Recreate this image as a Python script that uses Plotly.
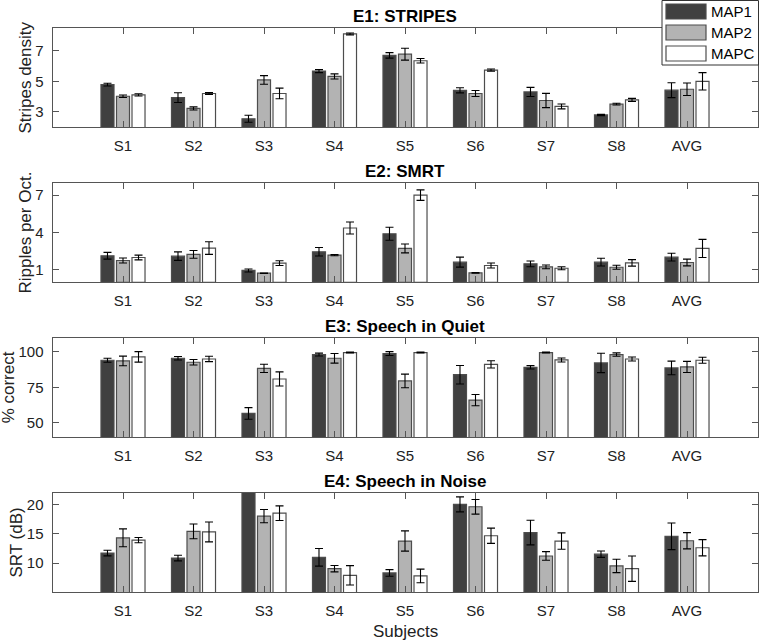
import plotly.graph_objects as go
from plotly.subplots import make_subplots

subjects = ["S1", "S2", "S3", "S4", "S5", "S6", "S7", "S8", "AVG"]
series_names = ["MAP1", "MAP2", "MAPC"]

# E1: STRIPES (stripes density)
e1_map1 = [4.78, 3.93, 2.54, 5.67, 6.70, 4.41, 4.30, 2.79, 4.42]
e1_map2 = [4.02, 3.22, 5.09, 5.32, 6.78, 4.20, 3.74, 3.50, 4.48]
e1_mapc = [4.11, 4.20, 4.20, 8.11, 6.35, 5.74, 3.35, 3.78, 5.00]
e1_map1_err = [0.09, 0.32, 0.23, 0.10, 0.18, 0.17, 0.30, 0.04, 0.49]
e1_map2_err = [0.08, 0.10, 0.28, 0.17, 0.39, 0.20, 0.47, 0.06, 0.41]
e1_mapc_err = [0.07, 0.06, 0.35, 0.06, 0.15, 0.07, 0.16, 0.10, 0.57]

# E2: SMRT (ripples per octave)
e2_map1 = [2.13, 2.10, 0.95, 2.45, 3.90, 1.62, 1.48, 1.62, 2.02]
e2_map2 = [1.75, 2.24, 0.73, 2.18, 2.72, 0.76, 1.24, 1.21, 1.59]
e2_mapc = [1.99, 2.75, 1.54, 4.36, 7.00, 1.35, 1.13, 1.56, 2.72]
e2_map1_err = [0.27, 0.34, 0.12, 0.34, 0.52, 0.40, 0.23, 0.31, 0.31]
e2_map2_err = [0.20, 0.31, 0.02, 0.05, 0.36, 0.03, 0.15, 0.16, 0.27]
e2_mapc_err = [0.19, 0.51, 0.19, 0.48, 0.42, 0.20, 0.12, 0.26, 0.73]

# E3: Speech in Quiet (% correct)
e3_map1 = [94.1, 95.5, 56.6, 98.1, 98.8, 83.9, 89.1, 92.2, 88.7]
e3_map2 = [93.6, 92.7, 88.4, 95.5, 79.5, 66.0, 99.5, 98.1, 89.4]
e3_mapc = [96.5, 95.0, 80.9, 99.5, 99.5, 91.2, 94.3, 95.0, 94.1]
e3_map1_err = [1.4, 1.2, 4.1, 1.0, 1.4, 6.5, 1.2, 6.8, 4.8]
e3_map2_err = [3.4, 1.9, 2.9, 3.4, 4.8, 4.0, 0.3, 1.2, 3.9]
e3_mapc_err = [3.7, 1.9, 5.0, 0.3, 0.3, 2.6, 1.4, 1.4, 2.1]

# E4: Speech in Noise (SRT dB)
e4_map1 = [11.7, 10.85, 25.0, 10.97, 8.3, 20.0, 15.2, 11.5, 14.55]
e4_map2 = [14.3, 15.4, 18.0, 9.03, 13.75, 19.6, 11.2, 9.5, 13.8]
e4_mapc = [13.9, 15.3, 18.5, 7.9, 7.8, 14.65, 13.75, 9.03, 12.6]
e4_map1_err = [0.48, 0.48, 2.0, 1.5, 0.57, 1.28, 2.1, 0.54, 2.27]
e4_map2_err = [1.53, 1.25, 1.14, 0.54, 1.73, 1.25, 0.74, 1.14, 1.39]
e4_mapc_err = [0.45, 1.7, 1.25, 1.65, 1.16, 1.3, 1.4, 2.16, 1.39]

panel_titles = ["E1: STRIPES", "E2: SMRT", "E3: Speech in Quiet", "E4: Speech in Noise"]
y_titles = ["Stripes density", "Ripples per Oct.", "% correct", "SRT (dB)"]
x_title = "Subjects"
y_ranges = [[2, 8.5], [0, 8], [40, 110], [5, 22]]
y_ticks = [[3, 5, 7], [1, 4, 7], [50, 75, 100], [10, 15, 20]]

panels = [
    ([e1_map1, e1_map2, e1_mapc], [e1_map1_err, e1_map2_err, e1_mapc_err]),
    ([e2_map1, e2_map2, e2_mapc], [e2_map1_err, e2_map2_err, e2_mapc_err]),
    ([e3_map1, e3_map2, e3_mapc], [e3_map1_err, e3_map2_err, e3_mapc_err]),
    ([e4_map1, e4_map2, e4_mapc], [e4_map1_err, e4_map2_err, e4_mapc_err]),
]

colors = ["#404040", "#b3b3b3", "#ffffff"]
EDGE = "#4d4d4d"
FONT = "Liberation Sans, Arial, Helvetica, sans-serif"
W, H = 759, 641

fig = make_subplots(rows=4, cols=1)

for r, (vals, errs) in enumerate(panels, start=1):
    for k in range(3):
        fig.add_trace(
            go.Bar(
                x=subjects,
                y=vals[k],
                name=series_names[k],
                legendgroup=series_names[k],
                showlegend=False,
                marker=dict(color=colors[k], line=dict(color=EDGE, width=1.2)),
                error_y=dict(type="data", array=errs[k], visible=True,
                             color="#000000", thickness=1.1, width=4),
            ),
            row=r, col=1,
        )

# panel geometry in pixels (top, bottom)
px_rows = [(28, 127), (182.7, 282.3), (337.7, 437), (492.7, 592.3)]
x_dom = [52.5 / W, 757.5 / W]
ytitle_x = [25, 25, 8, 16]

axis_style = dict(
    showline=True, linecolor="#555555", linewidth=1, mirror="ticks",
    ticks="inside", ticklen=6, tickcolor="#555555", showgrid=False,
    zeroline=False, tickfont=dict(family=FONT, size=15, color="#222222"),
)

for i in range(4):
    top, bot = px_rows[i]
    ydom = [1 - bot / H, 1 - top / H]
    xa = "xaxis" if i == 0 else f"xaxis{i+1}"
    ya = "yaxis" if i == 0 else f"yaxis{i+1}"
    fig.layout[xa].update(domain=x_dom, range=[-1, 9], ticklabelstandoff=5, **axis_style)
    fig.layout[ya].update(domain=ydom, range=y_ranges[i], tickvals=y_ticks[i],
                          ticklabelstandoff=5, **axis_style)
    # panel title
    fig.add_annotation(
        text=f"<b>{panel_titles[i]}</b>", xref="paper", yref="paper",
        x=(x_dom[0] + x_dom[1]) / 2, y=ydom[1], xanchor="center", yanchor="bottom",
        yshift=0, showarrow=False, font=dict(family=FONT, size=17, color="#000000"),
    )
    # y axis title
    fig.add_annotation(
        text=y_titles[i], xref="paper", yref="paper",
        x=ytitle_x[i] / W, y=(ydom[0] + ydom[1]) / 2, xanchor="center", yanchor="middle",
        textangle=-90, showarrow=False, font=dict(family=FONT, size=17, color="#222222"),
    )

# x axis title
fig.add_annotation(
    text=x_title, xref="paper", yref="paper", x=(x_dom[0] + x_dom[1]) / 2, y=1 - 631 / H,
    xanchor="center", yanchor="middle", showarrow=False,
    font=dict(family=FONT, size=17, color="#222222"),
)

# legend box (MATLAB style, wide swatches)
fig.add_shape(type="rect", xref="paper", yref="paper",
              x0=662 / W, x1=758.5 / W, y0=1 - 65 / H, y1=1 - 0.5 / H,
              line=dict(color="#333333", width=1), fillcolor="white", layer="above")
sw_rows = [(4, 19), (25, 40), (46, 61)]
for k in range(3):
    t, b = sw_rows[k]
    fig.add_shape(type="rect", xref="paper", yref="paper",
                  x0=666 / W, x1=706 / W, y0=1 - b / H, y1=1 - t / H,
                  line=dict(color=EDGE, width=1.2), fillcolor=colors[k], layer="above")
    fig.add_annotation(text=series_names[k], xref="paper", yref="paper",
                       x=709 / W, y=1 - ((t + b) / 2) / H, xanchor="left", yanchor="middle",
                       showarrow=False, font=dict(family=FONT, size=15, color="#000000"))

fig.update_layout(
    width=W, height=H,
    margin=dict(l=0, r=0, t=0, b=0),
    paper_bgcolor="white", plot_bgcolor="white",
    barmode="group", bargap=0.34, bargroupgap=0.16,
    font=dict(family=FONT, size=15, color="#222222"),
    showlegend=False,
)

fig.write_html("out.html", config={"displayModeBar": False},
               post_script="document.body.style.margin='0';document.body.style.overflow='hidden';")
